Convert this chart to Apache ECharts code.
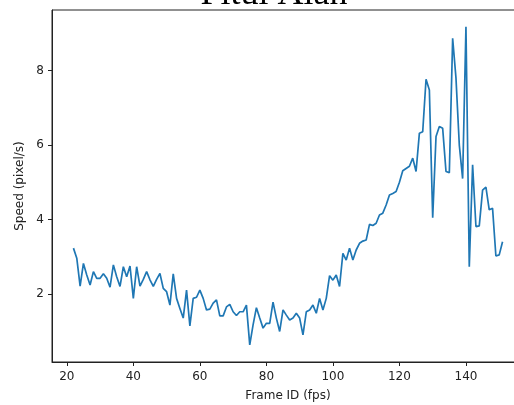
<!DOCTYPE html>
<html>
<head>
<meta charset="utf-8">
<script src="https://cdn.jsdelivr.net/npm/echarts@6/dist/echarts.min.js"></script>
<style>
html,body{margin:0;padding:0;background:#fff;}
#c{width:514px;height:405px;}
</style>
</head>
<body>
<div id="c"></div>
<script>
var titleText = 'Pitul Alan';
var xAxisName = 'Frame ID (fps)';
var yAxisName = 'Speed (pixel/s)';
var xTicks = [20, 40, 60, 80, 100, 120, 140];
var yTicks = [2, 4, 6, 8];
var frames = [];
for (var f = 22; f <= 151; f++) frames.push(f);
var speeds = [
  3.23, 2.96, 2.21, 2.82, 2.51, 2.24, 2.60, 2.42, 2.42, 2.54,
  2.42, 2.18, 2.78, 2.46, 2.20, 2.73, 2.46, 2.75, 1.88, 2.73,
  2.21, 2.39, 2.60, 2.38, 2.20, 2.39, 2.55, 2.15, 2.06, 1.70,
  2.54, 1.88, 1.61, 1.35, 2.10, 1.14, 1.88, 1.91, 2.10, 1.88,
  1.57, 1.59, 1.75, 1.84, 1.41, 1.41, 1.65, 1.72, 1.52, 1.42,
  1.52, 1.52, 1.70, 0.63, 1.17, 1.63, 1.35, 1.08, 1.21, 1.21,
  1.78, 1.35, 0.99, 1.57, 1.43, 1.30, 1.35, 1.48, 1.35, 0.90,
  1.52, 1.57, 1.70, 1.48, 1.88, 1.57, 1.88, 2.49, 2.37, 2.51,
  2.20, 3.09, 2.91, 3.23, 2.91, 3.18, 3.36, 3.42, 3.45, 3.87,
  3.84, 3.90, 4.12, 4.17, 4.39, 4.66, 4.70, 4.75, 5.00, 5.31,
  5.37, 5.43, 5.65, 5.29, 6.32, 6.36, 7.77, 7.48, 4.05, 6.23,
  6.50, 6.45, 5.29, 5.26, 8.87, 7.80, 6.00, 5.10, 9.18, 2.73,
  5.47, 3.81, 3.83, 4.79, 4.87, 4.26, 4.30, 3.02, 3.05, 3.40
];

var pts = frames.map(function (x, i) { return [x, speeds[i]]; });
var font = 'DejaVu Sans';
var chart = echarts.init(document.getElementById('c'), null, {renderer: 'canvas'});
chart.setOption({
  animation: false,
  backgroundColor: '#ffffff',
  title: {
    text: titleText,
    left: 269, textAlign: 'center',
    top: -28,
    textStyle: {fontFamily: 'Liberation Serif', fontSize: 36, fontWeight: 'normal', color: '#000'}
  },
  grid: {left: 52, top: 10, right: -10, bottom: 43, outerBoundsMode: 'none', containLabel: false,
         show: true, borderColor: '#222', borderWidth: 1, backgroundColor: 'transparent'},
  xAxis: {
    type: 'value', min: 15.55, max: 157.45,
    name: xAxisName, nameLocation: 'middle', nameGap: 28,
    nameTextStyle: {fontFamily: font, fontSize: 12, color: '#222'},
    axisLine: {show: true, lineStyle: {color: '#222', width: 1}},
    axisTick: {show: true, length: 4, lineStyle: {color: '#222'}, customValues: xTicks},
    axisLabel: {fontFamily: font, fontSize: 12, color: '#222', margin: 9, customValues: xTicks},
    splitLine: {show: false}
  },
  yAxis: {
    type: 'value', min: 0.17, max: 9.63,
    name: yAxisName, nameLocation: 'middle', nameGap: 22, nameRotate: 90,
    nameTextStyle: {fontFamily: font, fontSize: 12, color: '#222'},
    axisLine: {show: true, lineStyle: {color: '#222', width: 1}},
    axisTick: {show: true, length: 4, lineStyle: {color: '#222'}, customValues: yTicks},
    axisLabel: {fontFamily: font, fontSize: 12, color: '#222', margin: 8, customValues: yTicks},
    splitLine: {show: false}
  },
  series: [{
    type: 'line', data: pts, showSymbol: false, symbol: 'none',
    lineStyle: {color: '#1f77b4', width: 1.7},
    itemStyle: {color: '#1f77b4'}
  }]
});
</script>
</body>
</html>
